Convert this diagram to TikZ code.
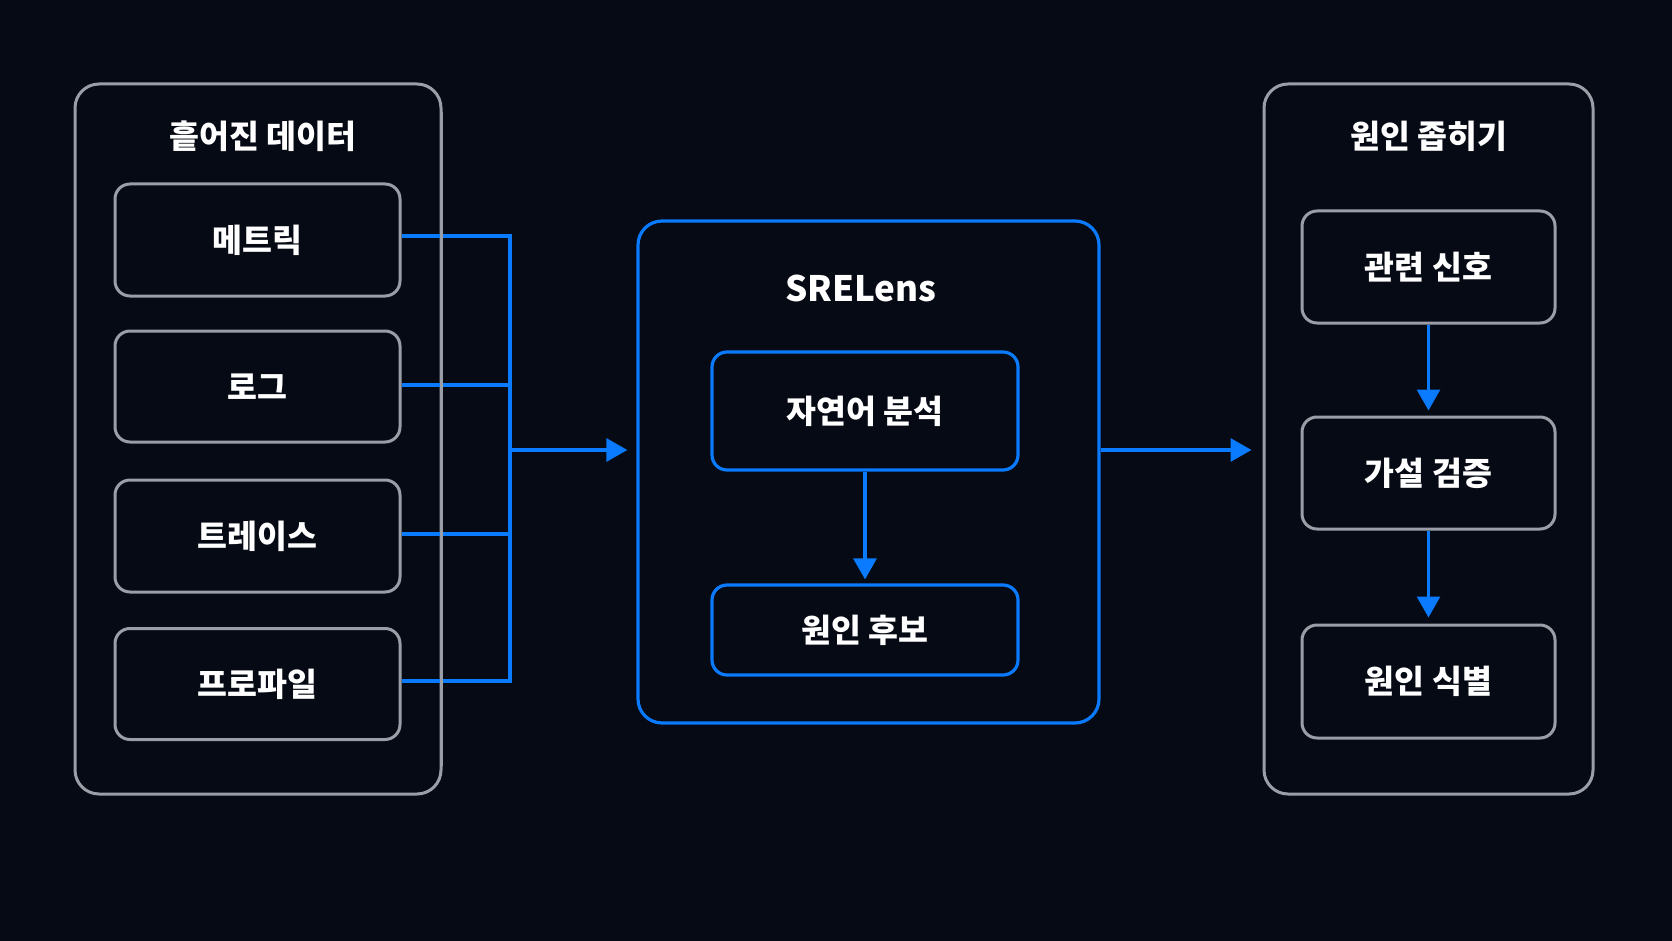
\documentclass[tikz,border=0pt]{standalone}
\usepackage{fontspec}
\setmainfont{Noto Sans CJK KR}
\usetikzlibrary{arrows.meta}
\definecolor{bg}{HTML}{050A14}
\definecolor{edge}{HTML}{9A9EA6}
\definecolor{accent}{HTML}{0A7AFF}
\tikzset{
  lbl/.style={text=white, font=\fontsize{32.5}{38}\selectfont\bfseries},
  outerbox/.style={draw=edge, line width=3pt, rounded corners=24pt, fill=bg},
  innerbox/.style={draw=edge, line width=3pt, rounded corners=15pt, fill=bg, lbl},
  blueouter/.style={draw=accent, line width=3.2pt, rounded corners=24pt, fill=bg},
  bluebox/.style={draw=accent, line width=3.2pt, rounded corners=15pt, fill=bg, lbl},
  ttl/.style={lbl},
  link/.style={draw=accent, line width=3.2pt},
  flow/.style={draw=accent, line width=3.2pt, -{Triangle[length=21pt,width=23pt]}},
}
\begin{document}
\begin{tikzpicture}[x=1pt,y=-1pt]
\fill[bg] (0,0) rectangle (1672,941);
\useasboundingbox (0,0) rectangle (1672,941);
% left group
\node[outerbox, minimum width=366pt, minimum height=710pt] (L) at (258,439) {};
\node[ttl] (Lt) at (263,136) {흩어진 데이터};
\node[innerbox, minimum width=285pt, minimum height=112pt] (m1) at (257.5,240) {메트릭};
\node[innerbox, minimum width=285pt, minimum height=111pt] (m2) at (257.5,386.5) {로그};
\node[innerbox, minimum width=285pt, minimum height=112pt] (m3) at (257.5,536) {트레이스};
\node[innerbox, minimum width=285pt, minimum height=111pt] (m4) at (257.5,684) {프로파일};
% middle group
\node[blueouter, minimum width=461pt, minimum height=502pt] (M) at (868.5,472) {};
\node[ttl, font=\fontsize{35}{40}\selectfont\bfseries] (Mt) at (861,288) {SRELens};
\node[bluebox, minimum width=306pt, minimum height=118pt] (n1) at (865,411) {자연어 분석};
\node[bluebox, minimum width=306pt, minimum height=90pt] (n2) at (865,630) {원인 후보};
% right group
\node[outerbox, minimum width=329pt, minimum height=710pt] (R) at (1428.5,439) {};
\node[ttl] (Rt) at (1429,136) {원인 좁히기};
\node[innerbox, minimum width=253pt, minimum height=112pt] (r1) at (1428.5,267) {관련 신호};
\node[innerbox, minimum width=253pt, minimum height=112pt] (r2) at (1428.5,473) {가설 검증};
\node[innerbox, minimum width=253pt, minimum height=113pt] (r3) at (1428.5,681.5) {원인 식별};
% bus
\coordinate (bx) at (510,0);
\coordinate (j) at (510,450);
\foreach \b/\s in {m1/4,m2/1.5,m3/2,m4/3} {
  \draw[link] ([yshift=\s pt]\b.east) -- ([yshift=\s pt]\b.east -| bx);
}
\draw[link, line cap=rect] ([yshift=4pt]m1.east -| bx) -- ([yshift=3pt]m4.east -| bx);
\draw[flow, shorten >=9pt] (j) -- (j -| M.west);
\draw[flow, shorten >=11pt] (j -| M.east) -- (j -| R.west);
\draw[flow, shorten >=4pt] (n1.south) -- (n2.north);
\draw[flow, shorten >=5pt] (r1.south) -- (r2.north);
\draw[flow, shorten >=6pt] (r2.south) -- (r3.north);
% gray outer border stays on top of the blue links
\draw[draw=edge, line width=3pt] ([xshift=-1.5pt,yshift=-30pt]L.north east) -- ([xshift=-1.5pt,yshift=30pt]L.south east);
\end{tikzpicture}
\end{document}
